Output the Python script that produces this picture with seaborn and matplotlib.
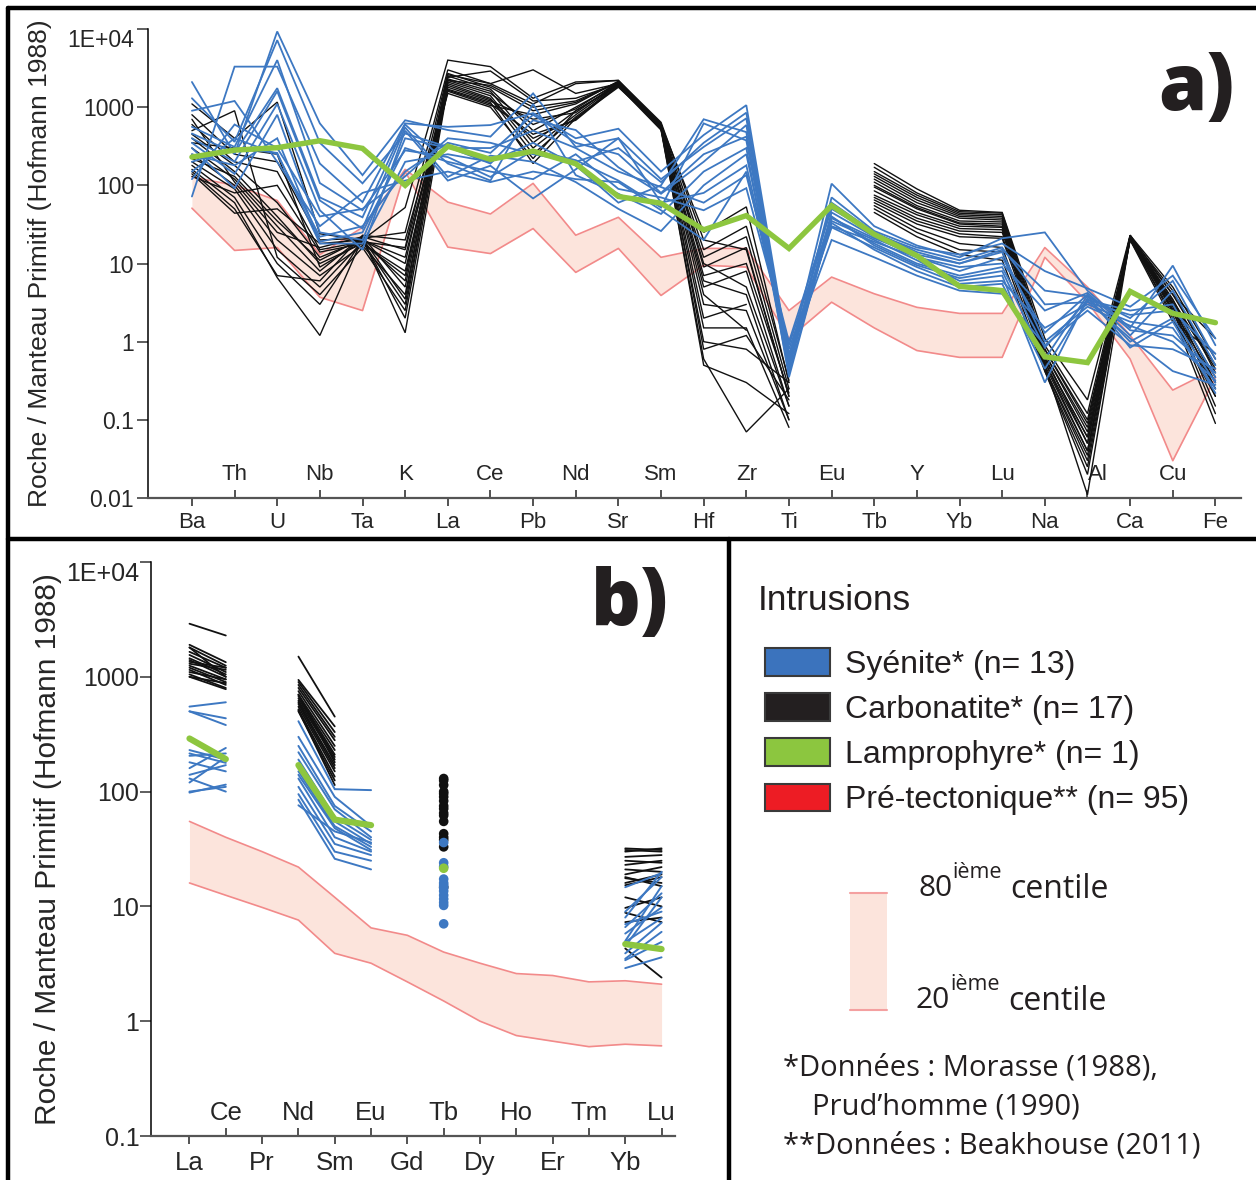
import numpy as np
import pandas as pd
import seaborn as sns
import matplotlib.pyplot as plt
from matplotlib.patches import Patch, Rectangle
from matplotlib.lines import Line2D
from matplotlib.ticker import NullLocator

nan = np.nan

# ---- panel a) : multi-element spider diagram ----
elems_a = ["Ba", "Th", "U", "Nb", "Ta", "K", "La", "Ce", "Pb", "Nd", "Sr", "Sm", "Hf",
           "Zr", "Ti", "Eu", "Tb", "Y", "Yb", "Lu", "Na", "Al", "Ca", "Cu", "Fe"]

syenite_a = [
    [72, 3300, 3300, 190, 61, 620, 560, 590, 840, 400, 530, 150, 440, 1060, 0.6, 105, 30, 17, 12, 21, 25, 4.5, 1.5, 9.4, 0.9],
    [2100, 250, 9300, 620, 135, 680, 510, 420, 1500, 310, 400, 120, 310, 720, 0.5, 60, 25, 14, 10, 15, 4.5, 3.8, 2.0, 6.0, 0.6],
    [1300, 360, 7200, 350, 106, 460, 310, 190, 680, 510, 170, 78, 200, 590, 0.45, 45, 22, 12, 8, 12, 1.3, 4.0, 1.2, 4.5, 0.5],
    [560, 310, 4000, 107, 48, 280, 230, 128, 280, 210, 115, 52, 620, 375, 0.55, 39, 18, 10, 7, 9, 0.84, 3.4, 2.5, 3.0, 0.35],
    [460, 260, 1750, 70, 39, 600, 190, 115, 1100, 135, 78, 43, 150, 300, 0.4, 35, 20, 11, 6, 7, 0.3, 3.6, 1.0, 2.0, 0.3],
    [400, 200, 1600, 64, 28, 550, 128, 240, 200, 110, 50, 26, 100, 250, 0.7, 29, 16, 9, 5.5, 6, 1.5, 3.0, 1.8, 1.5, 0.25],
    [350, 140, 1100, 48, 15, 500, 115, 178, 68, 160, 400, 60, 80, 180, 0.8, 30, 19, 12, 9, 10, 2.5, 4.2, 1.4, 1.2, 0.4],
    [300, 92, 800, 25, 20, 400, 300, 300, 500, 300, 150, 95, 60, 135, 1.0, 50, 24, 15, 11, 16, 3.0, 3.2, 2.2, 2.5, 0.7],
    [250, 180, 400, 19, 25, 300, 200, 150, 120, 250, 90, 70, 48, 92, 0.9, 40, 17, 9.5, 6.5, 8, 0.6, 3.9, 0.84, 1.8, 0.22],
    [200, 300, 260, 18, 18, 200, 250, 200, 350, 180, 60, 100, 700, 480, 0.35, 38, 21, 13, 10, 14, 1.0, 2.8, 1.6, 1.0, 0.32],
    [150, 400, 250, 22, 30, 150, 350, 260, 800, 350, 250, 80, 250, 420, 0.6, 33, 15, 8, 5, 5.5, 0.45, 3.3, 1.1, 0.42, 0.28],
    [120, 600, 300, 40, 50, 130, 400, 350, 250, 200, 300, 110, 350, 850, 0.5, 70, 26, 16, 13, 18, 8, 4.8, 2.8, 7, 1.1],
    [900, 1200, 200, 30, 80, 115, 150, 110, 150, 120, 110, 48, 20, 150, 0.65, 20, 12, 7, 4.5, 4.1, 0.9, 2.5, 0.9, 0.8, 0.45],
]

carbonatite_a = [
    [1100, 400, 1160, 24, 20, 52, 4000, 3300, 1300, 2100, 2200, 600, 25, 53, 0.3, nan, 190, 90, 48, 45, 1.1, 0.18, 23, 5, 0.6],
    [800, 250, 200, 20, 21, 25, 3000, 2000, 3000, 1500, 2000, 560, 12, 22, 0.25, nan, 170, 80, 46, 44, 0.9, 0.12, 22, 4.5, 0.4],
    [600, 200, 150, 15, 19, 16, 2700, 1800, 900, 1150, 2100, 620, 9, 16, 0.2, nan, 150, 75, 44, 42, 0.8, 0.1, 21, 4, 0.5],
    [450, 180, 60, 12, 20, 10, 2500, 1700, 500, 1000, 2000, 580, 5, 8, 0.15, nan, 140, 70, 42, 40, 0.7, 0.08, 22, 3.5, 0.3],
    [400, 150, 40, 10, 18, 7, 2300, 1600, 350, 900, 1900, 550, 3, 2.5, 0.1, nan, 130, 65, 40, 38, 0.6, 0.06, 21, 3.2, 0.25],
    [300, 120, 30, 8, 22, 5, 2200, 1500, 600, 950, 2100, 530, 1.5, 1.5, 0.08, nan, 120, 60, 38, 36, 0.55, 0.05, 20, 3, 0.2],
    [250, 100, 20, 7, 17, 4, 2100, 1400, 300, 800, 1950, 520, 1.0, 0.8, 0.3, nan, 110, 55, 35, 34, 0.5, 0.04, 21, 2.8, 0.15],
    [200, 90, 15, 5, 19, 3, 2000, 1300, 250, 750, 1850, 510, 0.6, 0.07, 0.25, nan, 100, 52, 33, 32, 0.45, 0.035, 22, 2.5, 0.12],
    [180, 70, 10, 3, 20, 2, 1900, 1250, 400, 700, 2000, 540, 0.5, 0.3, 0.12, nan, 95, 50, 32, 30, 0.42, 0.025, 20, 2.2, 0.09],
    [160, 60, 6.6, 1.2, 21, 1.3, 1800, 1200, 700, 850, 2050, 600, 0.8, 1.2, 0.18, nan, 85, 45, 30, 29, 0.5, 0.011, 21, 2.0, 0.2],
    [150, 50, 7, 6, 23, 20, 1700, 1150, 190, 720, 1800, 560, 2, 3, nan, nan, 75, 42, 28, 27, 0.65, 0.05, 22, 2.6, 0.3],
    [140, 44, 50, 18, 20, 12, 1650, 1100, 450, 680, 1900, 530, 4, 1.4, nan, nan, 70, 38, 26, 25, 0.7, 0.07, 23, 3, 0.35],
    [130, 80, 100, 14, 18, 8, 1600, 1050, 800, 1100, 2150, 610, 15, 30, 0.32, nan, 65, 35, 24, 22, 0.8, 0.09, 22, 3.4, 0.45],
    [350, 300, 250, 9, 19, 6, 2400, 2900, 1200, 1300, 2000, 570, 7, 10, 0.22, nan, 60, 32, 22, 21, 0.6, 0.06, 21, 3.1, 0.5],
    [220, 130, 35, 11, 21, 3.5, 2600, 2000, 1100, 2000, 2200, 640, 20, 15, 0.2, nan, 55, 28, 18, 16, 0.55, 0.04, 21, 2.4, 0.25],
    [500, 900, 12, 4, 16, 2.5, 2200, 1900, 1000, 1200, 2100, 580, 10, 5, 0.15, nan, 50, 25, 15, 14, 0.45, 0.03, 20, 1.8, 0.7],
    [700, 110, 25, 16, 22, 15, 1500, 1000, 220, 900, 1950, 540, 6, 4, 0.1, nan, 45, 22, 13, 11, 0.42, 0.02, 23, 4, 1.1],
]

lamprophyre_a = [230, 282, 303, 372, 297, 100, 316, 215, 274, 189, 72, 59, 27, 41, 15.6,
                 55, 23.6, 12.6, 5.1, 4.5, 0.64, 0.54, 4.4, 2.3, 1.75]

pretect_p80_a = [128, 100, 64, 13, 29, 160, 61, 43, 106, 23, 39, 12, 15.6, 15.6, 2.5,
                 6.7, 4.1, 2.75, 2.3, 2.3, 16, 5, 1.2, 0.24, 0.45]
pretect_p20_a = [51, 14.7, 16, 3.7, 2.5, 150, 16.2, 13.4, 28, 7.7, 15.6, 3.9, 9.5, 9, 1.1,
                 3.2, 1.5, 0.77, 0.63, 0.63, 12, 3.2, 0.6, 0.03, 0.35]

yticks_a = [0.01, 0.1, 1, 10, 100, 1000, 1e4]
ytick_labels_a = ["0.01", "0.1", "1", "10", "100", "1000", "1E+04"]

# ---- panel b) : rare earth elements ----
elems_b = ["La", "Ce", "Pr", "Nd", "Sm", "Eu", "Gd", "Tb", "Dy", "Ho", "Er", "Tm", "Yb", "Lu"]
sample_elems_b = ["La", "Ce", "Nd", "Sm", "Eu", "Tb", "Yb", "Lu"]

syenite_b = [
    [550, 600, 410, 105, 103, 36, 14.7, 19.5],
    [500, 435, 300, 90, 50, 24, 6.6, 13],
    [500, 380, 250, 75, 45, 22.2, 5.8, 9.8],
    [215, 178, 220, 70, 40, 17.3, 4.9, 7.9],
    [205, 215, 190, 60, 38, 15.3, 3.9, 7.2],
    [160, 240, 170, 55, 35, 13.6, 3.4, 4.9],
    [130, 100, 150, 50, 33, 11.6, 2.9, 3.6],
    [98, 115, 140, 48, 31, 10.2, 8, 20],
    [180, 150, 130, 40, 30, 7.05, 5, 15],
    [120, 200, 110, 35, 28, 12.5, 7, 9],
    [100, 110, 95, 30, 25, 16, 4.5, 12],
    [230, 190, 85, 26, 21, 10.8, 9, 18],
    [140, 170, 76, 45, 36, 14.5, 3.5, 6],
]

carbonatite_b = [
    [2900, 2290, 1500, 450, nan, 130, 32, 31],
    [1900, 1340, 940, 370, nan, 114, 31, 30],
    [1800, 1250, 900, 330, nan, 96, 27, 28],
    [1650, 1200, 850, 300, nan, 83, 23, 25],
    [1550, 1100, 800, 280, nan, 71, 21, 20],
    [1450, 1050, 750, 250, nan, 62, 19, 22],
    [1400, 1000, 700, 230, nan, 55, 17.6, 16],
    [1300, 1150, 680, 210, nan, 43, 15.3, 18],
    [1250, 950, 650, 200, nan, 38, 12, 10],
    [1200, 900, 620, 190, nan, 33, 9.7, 12],
    [1150, 850, 600, 170, nan, 14.7, 8.8, 7.3],
    [1100, 950, 580, 160, nan, 125, 7.3, 8],
    [1050, 800, 550, 150, nan, 100, 4.3, 2.4],
    [1000, 880, 520, 135, nan, 90, 30, 32],
    [1000, 780, 500, 125, nan, 75, 25, 24],
    [1800, 1000, 510, 114, nan, 65, 18, 15],
    [1350, 1200, 700, 180, nan, 40, 16, 19],
]

lamprophyre_b = [290, 192, 170, 57, 51, 21.5, 4.7, 4.25]

pretect_p80_b = [55, 40, 30, 22, 12, 6.5, 5.6, 4.0, 3.2, 2.6, 2.5, 2.2, 2.25, 2.1]
pretect_p20_b = [16, 12.5, 9.8, 7.6, 3.9, 3.2, 2.2, 1.5, 1.0, 0.75, 0.67, 0.6, 0.63, 0.61]

yticks_b = [0.1, 1, 10, 100, 1000, 1e4]
ytick_labels_b = ["0.1", "1", "10", "100", "1000", "1E+04"]

legend_labels = ["Syénite* (n= 13)", "Carbonatite* (n= 17)",
                 "Lamprophyre* (n= 1)", "Pré-tectonique** (n= 95)"]

BLUE = "#3d78c2"
BLACK = "#111111"
GREEN = "#8dc63f"
RED_EDGE = "#f28a8a"
RED_FILL = "#fce4dc"
legend_colors = ["#3b73bd", "#231f20", "#8cc63f", "#ed1c24"]

YLABEL = "Roche / Manteau Primitif (Hofmann 1988)"
W, H = 1256, 1180


def fx(x):
    return x / W


def fy(y):
    return 1 - y / H


def to_long(rows, cols, elems, tag):
    """Long table of contiguous segments (gaps break the line)."""
    recs = []
    for i, row in enumerate(rows):
        full = pd.Series(row, index=cols, dtype=float).reindex(elems)
        seg, gap = 0, True
        for pos, v in enumerate(full.values):
            if np.isnan(v):
                gap = True
                continue
            if gap:
                seg += 1
                gap = False
            recs.append((pos, v, f"{tag}{i}-{seg}"))
    return pd.DataFrame(recs, columns=["pos", "val", "unit"])


def spider(ax, df, color, lw, z):
    sns.lineplot(data=df, x="pos", y="val", units="unit", estimator=None,
                 color=color, lw=lw, ax=ax, legend=False, zorder=z,
                 solid_joinstyle="miter")


def band(ax, lo, hi):
    x = np.arange(len(lo))
    ax.fill_between(x, lo, hi, color=RED_FILL, lw=0, zorder=1)
    edges = pd.DataFrame({"pos": np.r_[x, x], "val": np.r_[hi, lo],
                          "unit": ["hi"] * len(x) + ["lo"] * len(x)})
    sns.lineplot(data=edges, x="pos", y="val", units="unit", estimator=None,
                 color=RED_EDGE, lw=1.2, ax=ax, legend=False, zorder=2)


def style(ax, elems, yticks, ylabels, xlim, fs_x, fs_y, ypad, pad_bot, pad_top, fs_label, label_x):
    ax.set_yscale("log")
    ax.set_xlim(*xlim)
    ax.set_ylim(yticks[0], yticks[-1])
    ax.set_yticks(yticks, ylabels)
    ax.yaxis.set_minor_locator(NullLocator())
    pos = np.arange(len(elems))
    ax.set_xticks(pos[::2], elems[::2])
    ax.set_xticks(pos[1::2], elems[1::2], minor=True)
    sns.despine(ax=ax)
    ax.spines["bottom"].set_color("#555555")
    ax.spines["bottom"].set_linewidth(1.6)
    ax.spines["left"].set_color("black")
    ax.spines["left"].set_linewidth(1.1)
    ax.tick_params(axis="y", which="major", direction="out", length=8, width=1.1,
                   labelsize=fs_y, pad=ypad, color="#333333")
    ax.tick_params(axis="x", which="major", direction="out", length=5.5, width=1.3,
                   labelsize=fs_x, pad=pad_bot, color="#444444")
    ax.tick_params(axis="x", which="minor", direction="in", length=5.5, width=1.3,
                   labelsize=fs_x, pad=pad_top, color="#444444")
    ax.set_xlabel("")
    ax.set_ylabel(YLABEL, fontsize=fs_label)
    ax.yaxis.set_label_coords(label_x, 0.5)
    ax.get_yticklabels()[-1].set_va("top")
    ax.set_facecolor("white")


sns.set_style("ticks")
plt.rcParams["font.family"] = ["Liberation Sans", "DejaVu Sans"]

fig = plt.figure(figsize=(W / 100, H / 100), dpi=100)

# ---------------- panel a ----------------
ax_a = fig.add_axes([fx(148), fy(498), fx(1241) - fx(148), fy(29) - fy(498)])
band(ax_a, pretect_p20_a, pretect_p80_a)
spider(ax_a, to_long(carbonatite_a, elems_a, elems_a, "k"), BLACK, 1.0, 3)
spider(ax_a, to_long(syenite_a, elems_a, elems_a, "s"), BLUE, 1.3, 4)
spider(ax_a, to_long([lamprophyre_a], elems_a, elems_a, "l"), GREEN, 3.9, 5)
style(ax_a, elems_a, yticks_a, ytick_labels_a, (-1.03, 24.6), 16, 16.5, 2, 4.5, -24.5, 19, -0.088)
for lab in ax_a.get_xticklabels(minor=True):
    if lab.get_text() == "Al":
        lab.set_ha("left")

# ---------------- panel b ----------------
ax_b = fig.add_axes([fx(151), fy(1136), fx(675) - fx(151), fy(562) - fy(1136)])
band(ax_b, pretect_p20_b, pretect_p80_b)
spider(ax_b, to_long(carbonatite_b, sample_elems_b, elems_b, "k"), BLACK, 1.3, 3)
spider(ax_b, to_long(syenite_b, sample_elems_b, elems_b, "s"), BLUE, 1.4, 4)
spider(ax_b, to_long([lamprophyre_b], sample_elems_b, elems_b, "l"), GREEN, 4.5, 5)
tb = elems_b.index("Tb")
i_tb = sample_elems_b.index("Tb")
for rows, col, z in [(carbonatite_b, BLACK, 6), (syenite_b, BLUE, 7), ([lamprophyre_b], GREEN, 8)]:
    vals = [r[i_tb] for r in rows]
    sns.scatterplot(x=[tb] * len(vals), y=vals, color=col, s=48, edgecolor="none",
                    ax=ax_b, zorder=z, legend=False)
style(ax_b, elems_b, yticks_b, ytick_labels_b, (-1.06, 13.37), 18.5, 18, 0.3, 5, -25, 21.5, -0.17)

# ---------------- panel labels ----------------
fig.text(fx(1196), fy(90), "a)", fontsize=56, fontweight="heavy",
         family=["Open Sans", "DejaVu Sans"], ha="center", va="center", color="#231f20")
fig.text(fx(630), fy(605), "b)", fontsize=56, fontweight="heavy",
         family=["Open Sans", "DejaVu Sans"], ha="center", va="center", color="#231f20")

# ---------------- legend panel ----------------
fig.text(fx(758), fy(600), "Intrusions", fontsize=25.5, ha="left", va="center", color="#231f20")
handles = [Patch(facecolor=c, edgecolor="#3a3a3a", lw=1.5) for c in legend_colors]
fig.legend(handles, legend_labels, loc="upper left",
           bbox_to_anchor=(fx(765), fy(648)), frameon=False, borderpad=0,
           borderaxespad=0, fontsize=23, handlelength=2.05, handleheight=0.95,
           handletextpad=0.45, labelspacing=0.42, labelcolor="#231f20")

fig.add_artist(Rectangle((fx(850), fy(1010)), fx(887) - fx(850), fy(893) - fy(1010),
                         transform=fig.transFigure, facecolor=RED_FILL, edgecolor="none"))
for yy in (893, 1010):
    fig.add_artist(Line2D([fx(850), fx(887)], [fy(yy), fy(yy)], transform=fig.transFigure,
                          color="#f4a0a0", lw=1.5))

myriad = ["Open Sans", "DejaVu Sans"]
for num, y0, x0 in [("80", 889, 918), ("20", 1001, 916)]:
    fig.text(fx(x0), fy(y0), num, fontsize=21.5, family=myriad, ha="left", va="center", color="#231f20")
    fig.text(fx(x0 + 34), fy(y0 - 16), "ième", fontsize=15.5, family=myriad, ha="left", va="center", color="#231f20")
    fig.text(fx(x0 + 92), fy(y0), "centile", fontsize=23, family=myriad, ha="left", va="center", color="#231f20")

fig.text(fx(783), fy(1068), "*Données : Morasse (1988),", fontsize=21, family=myriad,
         ha="left", va="center", color="#231f20")
fig.text(fx(812), fy(1107), "Prud\u2019homme (1990)", fontsize=21, family=myriad,
         ha="left", va="center", color="#231f20")
fig.text(fx(783), fy(1146), "**Données : Beakhouse (2011)", fontsize=21, family=myriad,
         ha="left", va="center", color="#231f20")

# ---------------- frame ----------------
for xs, ys in [((8, W), (8, 8)), ((8, 8), (8, H)), ((8, W), (539, 539)), ((729, 729), (539, H))]:
    fig.add_artist(Line2D([fx(xs[0]), fx(xs[1])], [fy(ys[0]), fy(ys[1])],
                          transform=fig.transFigure, color="black", lw=3.2))

fig.savefig("out.png", dpi=100, facecolor="white")
